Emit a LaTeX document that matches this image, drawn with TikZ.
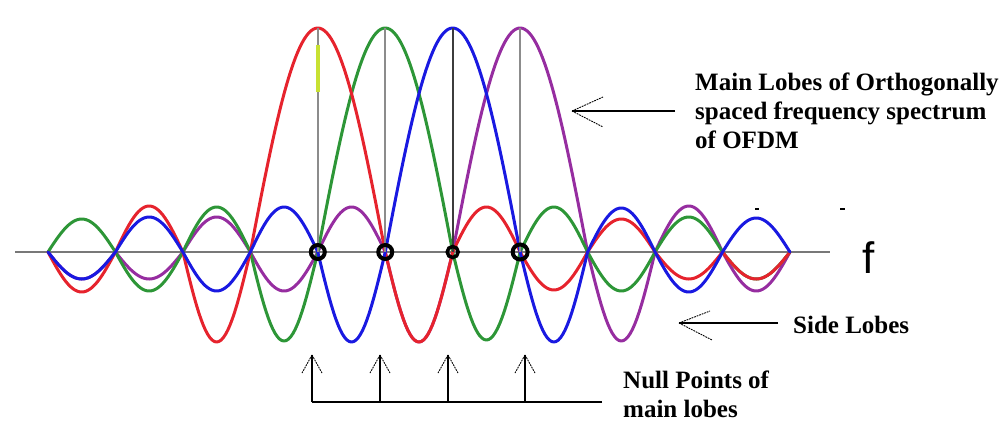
\documentclass[tikz,border=0pt]{standalone}
\usepackage{fontspec}
\setmainfont{Liberation Serif}
\newfontfamily\fsans{Liberation Sans}
\definecolor{cred}{RGB}{230,35,45}
\definecolor{cgreen}{RGB}{45,150,55}
\definecolor{cblue}{RGB}{25,25,225}
\definecolor{cpurple}{RGB}{150,45,160}
\definecolor{caxis}{RGB}{120,120,120}
\definecolor{cstem}{RGB}{140,140,140}
\definecolor{cstemdark}{RGB}{60,60,60}
\definecolor{cyel}{RGB}{200,225,50}
\begin{document}
\begin{tikzpicture}[x=1pt,y=1pt,
  curve/.style={line width=3pt, line join=round, line cap=round},
  axisline/.style={line width=2pt, caxis},
  stem/.style={line width=2pt, cstem},
  nullring/.style={line width=4pt, black},
  shaft/.style={line width=1.3pt, black},
  barb/.style={line width=0.9pt, black, dash pattern=on 1.8pt off 0.9pt},
  lbl/.style={font=\bfseries\fontsize{25}{29}\selectfont, align=left, inner sep=0pt, text=black}]
\useasboundingbox (0,-172) rectangle (1008,252);
\def\xo{48}
\def\xs{67.45}
% axis
\coordinate (axL) at (15,0);
\coordinate (axR) at (830,0);
\draw[axisline] (axL) -- (axR);
% curves
\draw[curve, cpurple] (\xo,0) \foreach \a/\f/\p [count=\i from 0] in {-27/1/0,-27/1/0,35/1/0,-39/1/0,45/1/0,-90/1/0,224/0.5/0,224/0.5/90,-89/1/0,46/1/0,-39/1/0} { -- plot[domain=0:180, samples=31, variable=\t] ({\xo+\xs*(\i+\t/180)}, {\a*sin(\t*\f+\p)}) };
\draw[curve, cgreen] (\xo,0) \foreach \a/\f/\p [count=\i from 0] in {33/1/0,-39/1/0,45/1/0,-89/1/0,224/0.5/0,224/0.5/90,-88/1/0,45/1/0,-39/1/0,35/1/0,-27/1/0} { -- plot[domain=0:180, samples=31, variable=\t] ({\xo+\xs*(\i+\t/180)}, {\a*sin(\t*\f+\p)}) };
\draw[curve, cred] (\xo,0) \foreach \a/\f/\p [count=\i from 0] in {-40/1/0,46/1/0,-90/1/0,224/0.5/0,224/0.5/90,-90/1/0,45/1/0,-38/1/0,33/1/0,-27/1/0,-27/1/0} { -- plot[domain=0:180, samples=31, variable=\t] ({\xo+\xs*(\i+\t/180)}, {\a*sin(\t*\f+\p)}) };
\draw[curve, cblue] (\xo,0) \foreach \a/\f/\p [count=\i from 0] in {-27/1/0,35/1/0,-39/1/0,45/1/0,-90/1/0,224/0.5/0,224/0.5/90,-90/1/0,44/1/0,-40/1/0,34/1/0} { -- plot[domain=0:180, samples=31, variable=\t] ({\xo+\xs*(\i+\t/180)}, {\a*sin(\t*\f+\p)}) };
% stems and null points
\foreach \k in {4,5,6,7} {
  \coordinate (n\k) at ({\xo+\k*\xs},0);
  \coordinate (p\k) at ({\xo+\k*\xs},224);
}
\draw[stem] (n4) -- (p4);
\draw[stem] (n5) -- (p5);
\draw[stem, cstemdark] (n6) -- (p6);
\draw[stem] (n7) -- (p7);
\coordinate (y1) at ({\xo+4*\xs},207);
\coordinate (y2) at ({\xo+4*\xs},160);
\draw[line width=4pt, cyel] (y1) -- (y2);
\draw[nullring] (n4) circle[radius=7];
\draw[nullring] (n5) circle[radius=7];
\draw[nullring, line width=3.5pt] (n6) circle[radius=5.5];
\draw[nullring] (n7) circle[radius=7.5];
% small marks
\coordinate (m1a) at (755,43); \coordinate (m1b) at (759,43);
\coordinate (m2a) at (840,43); \coordinate (m2b) at (845,43);
\draw[line width=1.2pt] (m1a) -- (m1b);
\draw[line width=1.2pt] (m2a) -- (m2b);
% f label
\node[font=\fsans\fontsize{44}{50}\selectfont, inner sep=0pt, anchor=base west] (flbl) at (862,-21) {f};
% main lobes label and arrow
\node[lbl, anchor=north west] (mainlbl) at (695,179) {Main Lobes of Orthogonally\\spaced frequency spectrum\\of OFDM};
\coordinate (mtail) at (675,141);
\coordinate (mtip) at (572,141);
\draw[shaft] (mtail) -- (mtip);
\draw[barb] (mtip) -- ++(31,14);
\draw[barb] (mtip) -- ++(31,-16);
% side lobes label and arrow
\node[lbl, anchor=base west] (sidelbl) at (793,-81) {Side Lobes};
\coordinate (stail) at (778,-71);
\coordinate (stip) at (679,-71);
\draw[shaft] (stail) -- (stip);
\draw[barb] (stip) -- ++(31,12);
\draw[barb] (stip) -- ++(33,-17);
% null points label and arrows
\node[lbl, anchor=north west] (nulllbl) at (623,-119) {Null Points of\\main lobes};
\coordinate (bl) at (312,-150);
\coordinate (br) at (602,-150);
\draw[shaft] (br) -- (bl);
\foreach \xx [count=\j] in {312,380,448,525} {
  \coordinate (nt\j) at (\xx,-103);
  \coordinate (nb\j) at (\xx,-150);
  \draw[shaft] (nb\j) -- (nt\j);
  \draw[barb] (nt\j) -- ++(-10,-18);
  \draw[barb] (nt\j) -- ++(10,-18);
}
\end{tikzpicture}
\end{document}
